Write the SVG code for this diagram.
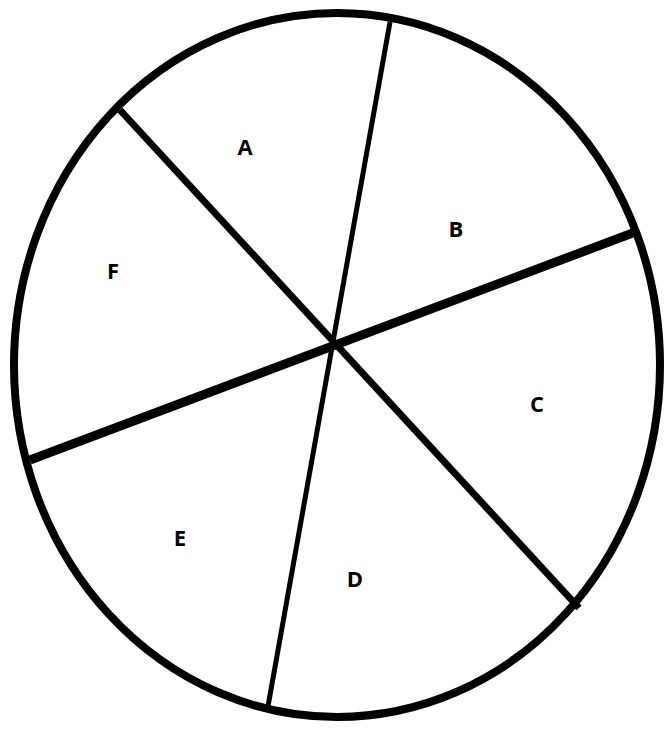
<svg xmlns="http://www.w3.org/2000/svg" width="666" height="731" viewBox="0 0 666 731">
<style>
.lbl{font-family:"Open Sans","Liberation Sans",sans-serif;font-size:22px;font-weight:bold;fill:#000;text-anchor:middle;dominant-baseline:central}
.ln{stroke:#000;fill:none;stroke-linecap:butt}
</style>
<rect width="666" height="731" fill="#fff"/>
<g id="connectors">
<line class="ln" x1="390" y1="22" x2="267" y2="712" stroke-width="5"/>
<line class="ln" x1="120" y1="110" x2="579" y2="608" stroke-width="7"/>
<line class="ln" x1="30" y1="460" x2="638" y2="231" stroke-width="9"/>
</g>
<g id="circle"><ellipse cx="337" cy="365" rx="323" ry="352" fill="none" stroke="#000" stroke-width="8"/></g>
<g id="A"><text class="lbl" x="245" y="146">A</text></g>
<g id="B"><text class="lbl" x="456" y="228">B</text></g>
<g id="C"><text class="lbl" x="537" y="403">C</text></g>
<g id="D"><text class="lbl" x="355" y="578">D</text></g>
<g id="E"><text class="lbl" x="180" y="537">E</text></g>
<g id="F"><text class="lbl" x="113" y="270">F</text></g>
</svg>
